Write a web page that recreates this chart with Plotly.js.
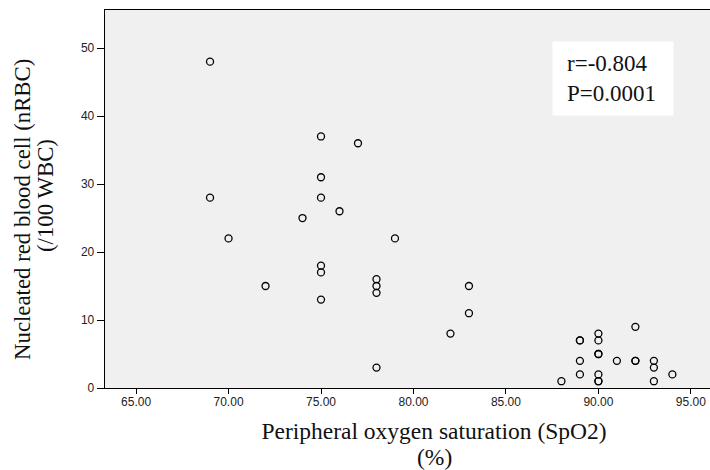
<!DOCTYPE html>
<html>
<head>
<meta charset="utf-8">
<script src="https://cdn.plot.ly/plotly-3.0.1.min.js"></script>
<style>
html,body{margin:0;padding:0;overflow:hidden;background:#fff;}
#chart{width:772px;height:470px;}
</style>
</head>
<body>
<div id="chart"></div>
<script>
var spo2 = [69,69,70,72,74,75,75,75,75,75,75,76,77,78,78,78,78,79,82,83,83,88,89,89,89,89,90,90,90,90,90,90,90,91,92,92,92,93,93,93,94];
var nrbc = [48,28,22,15,25,37,31,28,18,17,13,26,36,16,15,14,3,22,8,15,11,1,7,7,4,2,8,7,5,5,2,1,1,4,9,4,4,4,3,1,2];
var xTickVals = [65,70,75,80,85,90,95];
var yTickVals = [0,10,20,30,40,50];
var xTitle = ['Peripheral oxygen saturation (SpO2)', '(%)'];
var yTitle = ['Nucleated red blood cell (nRBC)', '(/100 WBC)'];
var statsText = ['r=-0.804', 'P=0.0001'];

var serif = 'Liberation Serif, Times New Roman, serif';
var sans = 'Liberation Sans, Arial, sans-serif';

var trace = {
  x: spo2, y: nrbc, type: 'scatter', mode: 'markers',
  marker: {symbol: 'circle-open', size: 7, color: '#000', line: {width: 1.3, color: '#000'}},
  hoverinfo: 'x+y'
};

var layout = {
  width: 772, height: 470,
  margin: {l: 105, r: 9, t: 10, b: 82},
  paper_bgcolor: '#ffffff',
  plot_bgcolor: '#f0f0f0',
  showlegend: false,
  xaxis: {
    range: [63.32, 98.9],
    tickvals: xTickVals, tickformat: '.2f',
    ticks: 'outside', ticklen: 5, tickwidth: 1, tickcolor: '#000',
    ticklabelstandoff: -3,
    tickfont: {family: sans, size: 12, color: '#222'},
    showgrid: false, zeroline: false,
    showline: true, mirror: true, linecolor: '#000', linewidth: 1.3,
    title: {text: xTitle[0], font: {family: serif, size: 23.5, color: '#111'}, standoff: 14}
  },
  yaxis: {
    range: [0, 55.6],
    tickvals: yTickVals,
    ticks: 'outside', ticklen: 7, tickwidth: 1, tickcolor: '#000',
    tickfont: {family: sans, size: 12, color: '#222'},
    showgrid: false, zeroline: false,
    showline: true, mirror: true, linecolor: '#000', linewidth: 1.3
  },
  annotations: [
    {
      xref: 'paper', yref: 'paper', x: 0.5, y: 0, yanchor: 'top', xanchor: 'center',
      yshift: -54, showarrow: false, text: xTitle[1],
      font: {family: serif, size: 23.5, color: '#111'}
    },
    {
      xref: 'paper', yref: 'paper', x: 0, y: 0.471, xanchor: 'center', yanchor: 'middle',
      xshift: -82, textangle: -90, showarrow: false, text: yTitle[0],
      font: {family: serif, size: 22.8, color: '#111'}
    },
    {
      xref: 'paper', yref: 'paper', x: 0, y: 0.508, xanchor: 'center', yanchor: 'middle',
      xshift: -59, textangle: -90, showarrow: false, text: yTitle[1],
      font: {family: serif, size: 22.8, color: '#111'}
    },
    {
      xref: 'paper', yref: 'paper', x: 0.772, y: 0.8188, xanchor: 'center', yanchor: 'middle',
      showarrow: false, text: statsText.join('<br>'), align: 'left', valign: 'middle',
      width: 92, height: 45, borderpad: 14, bgcolor: '#ffffff',
      font: {family: serif, size: 23, color: '#111'}
    }
  ]
};

Plotly.newPlot('chart', [trace], layout, {displayModeBar: false, staticPlot: true});
</script>
</body>
</html>
